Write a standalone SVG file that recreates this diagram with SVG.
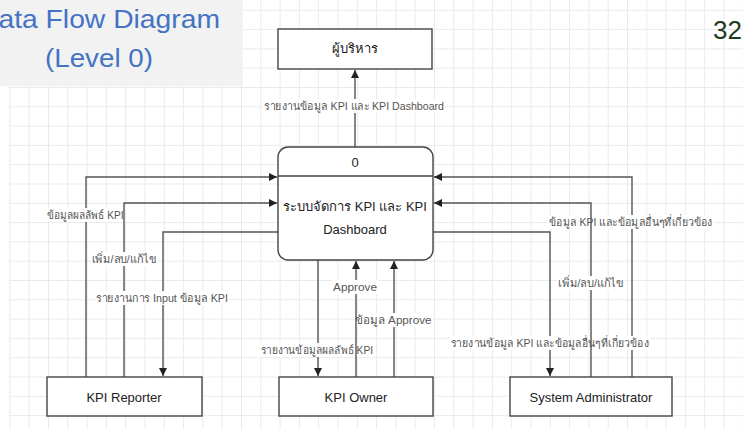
<svg xmlns="http://www.w3.org/2000/svg" width="743" height="429" viewBox="0 0 743 429">
<defs>
<pattern id="grid" patternUnits="userSpaceOnUse" x="9.4" y="9.8" width="19.3" height="19.3">
<path d="M0.5 0 V19.3 M0 0.5 H19.3" stroke="#eaeaea" stroke-width="1" fill="none"/>
</pattern>
<marker id="arr" markerUnits="userSpaceOnUse" markerWidth="9" markerHeight="8" refX="8" refY="4" orient="auto">
<path d="M0,0 L8,4 L0,8 z" fill="#222"/>
</marker>
<style>
.ln{fill:none;stroke:#555;stroke-width:1.4}
.box{fill:#fff;stroke:#444;stroke-width:1.4}
.nt{font-family:"Liberation Sans","Noto Sans",sans-serif;font-size:13px;fill:#222;text-anchor:middle;dominant-baseline:central}
.lb{font-family:"Liberation Sans","Noto Sans",sans-serif;font-size:11.5px;fill:#555;text-anchor:middle;dominant-baseline:central}
.bg{fill:#fff}
</style>
</defs>
<rect x="9" y="0" width="734" height="429" fill="#fff"/>
<rect x="9" y="0" width="734" height="429" fill="url(#grid)"/>
<g id="title">
<rect x="0" y="0" width="243" height="86" fill="#f2f2f2"/>
<text x="99" y="28" font-family="Liberation Sans, sans-serif" font-size="26" fill="#4472c4" text-anchor="middle" textLength="242" lengthAdjust="spacingAndGlyphs">Data Flow Diagram</text>
<text x="99" y="67" font-family="Liberation Sans, sans-serif" font-size="26" fill="#4472c4" text-anchor="middle" textLength="108" lengthAdjust="spacingAndGlyphs">(Level 0)</text>
</g>
<text id="pagenum" x="742" y="39" font-family="Liberation Sans, sans-serif" font-size="26" fill="#1e3a1e" text-anchor="end">32</text>
<g id="connectors">
<g id="c1">
<path class="ln" d="M355 147 V70" marker-end="url(#arr)"/>
<rect class="bg" x="263" y="99" width="182" height="14"/>
<text class="lb" x="354" y="106" textLength="180" lengthAdjust="spacingAndGlyphs">รายงานข้อมูล KPI และ KPI Dashboard</text>
</g>
<g id="c2">
<path class="ln" d="M86 377 V177 H277" marker-end="url(#arr)"/>
<rect class="bg" x="45" y="208" width="79" height="14"/>
<text class="lb" x="85" y="215" textLength="77" lengthAdjust="spacingAndGlyphs">ข้อมูลผลลัพธ์ KPI</text>
</g>
<g id="c3">
<path class="ln" d="M124 377 V203 H277" marker-end="url(#arr)"/>
<rect class="bg" x="91" y="252" width="67" height="14"/>
<text class="lb" x="124" y="259" textLength="65" lengthAdjust="spacingAndGlyphs">เพิ่ม/ลบ/แก้ไข</text>
</g>
<g id="c4">
<path class="ln" d="M278 232 H163 V376" marker-end="url(#arr)"/>
<rect class="bg" x="95" y="291" width="134" height="14"/>
<text class="lb" x="162" y="298" textLength="132" lengthAdjust="spacingAndGlyphs">รายงานการ Input ข้อมูล KPI</text>
</g>
<g id="c5">
<path class="ln" d="M318 260 V376" marker-end="url(#arr)"/>
<rect class="bg" x="260" y="343" width="114" height="14"/>
<text class="lb" x="317" y="350" textLength="112" lengthAdjust="spacingAndGlyphs">รายงานข้อมูลผลลัพธ์ KPI</text>
</g>
<g id="c7">
<path class="ln" d="M394 377 V261" marker-end="url(#arr)"/>
<rect class="bg" x="354" y="313" width="79" height="14"/>
<text class="lb" x="393" y="320" textLength="77" lengthAdjust="spacingAndGlyphs">ข้อมูล Approve</text>
</g>
<g id="c6">
<path class="ln" d="M356 377 V261" marker-end="url(#arr)"/>
<rect class="bg" x="332" y="280" width="46" height="14"/>
<text class="lb" x="355" y="287" textLength="44" lengthAdjust="spacingAndGlyphs">Approve</text>
</g>
<g id="c8">
<path class="ln" d="M632 377 V177 H434" marker-end="url(#arr)"/>
<rect class="bg" x="548" y="215" width="166" height="14"/>
<text class="lb" x="631" y="222" textLength="164" lengthAdjust="spacingAndGlyphs">ข้อมูล KPI และข้อมูลอื่นๆที่เกี่ยวข้อง</text>
</g>
<g id="c10">
<path class="ln" d="M433 232 H550 V376" marker-end="url(#arr)"/>
<rect class="bg" x="450" y="336" width="200" height="14"/>
<text class="lb" x="550" y="343" textLength="198" lengthAdjust="spacingAndGlyphs">รายงานข้อมูล KPI และข้อมูลอื่นๆที่เกี่ยวข้อง</text>
</g>
<g id="c9">
<path class="ln" d="M591 377 V203 H434" marker-end="url(#arr)"/>
<rect class="bg" x="557" y="276" width="68" height="14"/>
<text class="lb" x="591" y="283" textLength="66" lengthAdjust="spacingAndGlyphs">เพิ่ม/ลบ/แก้ไข</text>
</g>
</g>
<g id="executive">
<rect class="box" x="278" y="29" width="154" height="40"/>
<text class="nt" x="355" y="48">ผู้บริหาร</text>
</g>
<g id="process">
<rect class="box" x="278" y="147" width="155" height="113" rx="10"/>
<line x1="278" y1="176" x2="433" y2="176" stroke="#444" stroke-width="1.4"/>
<text class="nt" x="355" y="162">0</text>
<text class="nt" x="355" y="206">ระบบจัดการ KPI และ KPI</text>
<text class="nt" x="355" y="229">Dashboard</text>
</g>
<g id="reporter">
<rect class="box" x="47" y="377" width="155" height="39"/>
<text class="nt" x="124" y="397">KPI Reporter</text>
</g>
<g id="owner">
<rect class="box" x="279" y="377" width="154" height="39"/>
<text class="nt" x="356" y="397">KPI Owner</text>
</g>
<g id="admin">
<rect class="box" x="510" y="377" width="162" height="39"/>
<text class="nt" x="591" y="397">System Administrator</text>
</g>
</svg>
